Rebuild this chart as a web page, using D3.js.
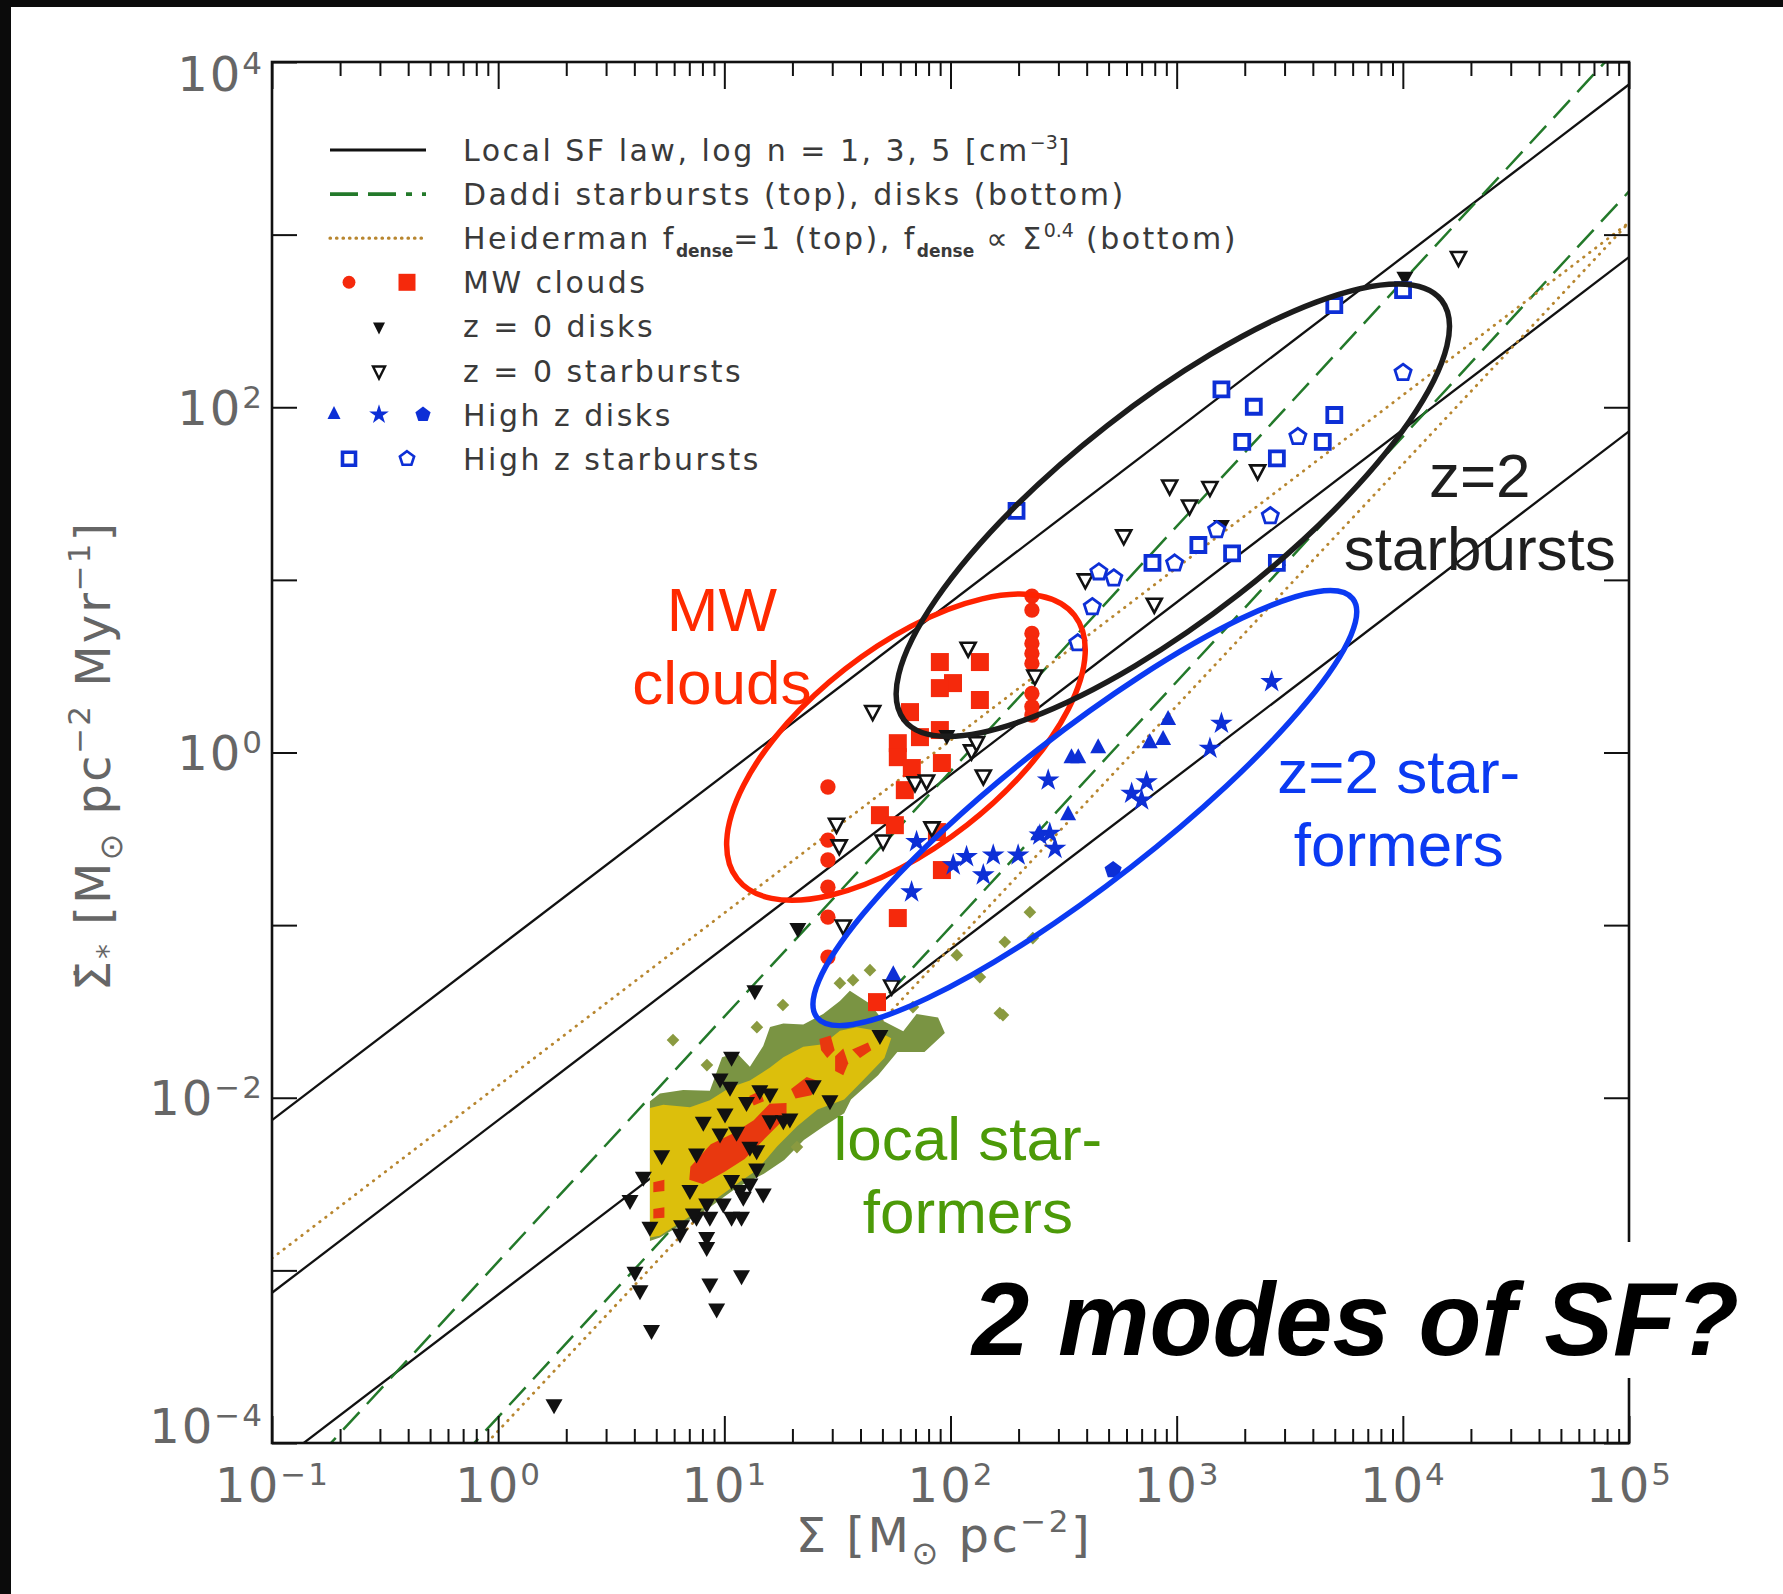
<!DOCTYPE html>
<html>
<head>
<meta charset="utf-8">
<script src="https://cdn.jsdelivr.net/npm/d3@7"></script>
<style>
  body { margin: 0; background: #fff; }
  svg { display: block; }
</style>
</head>
<body>
<svg id="chart" width="1783" height="1594"></svg>
<script>
// all points are [log10 Sigma, log10 SigmaDot]

// model lines: [slope, intercept] in log-log space
const localLaw = [[1, -1.13], [1, -2.13], [1, -3.14]];
const daddi = [[1.42, -2.95], [1.42, -3.85]];
const heiderman = [[1.0, -1.93], [1.4, -3.93]];

// local star-former contours
const olivePoly = [
  [0.671,-2.020],[0.715,-1.975],[0.818,-1.955],[0.936,-1.960],[0.990,-1.765],[1.054,-1.740],
  [1.113,-1.820],[1.172,-1.700],[1.202,-1.590],[1.261,-1.570],[1.349,-1.575],[1.437,-1.515],
  [1.511,-1.440],[1.555,-1.380],[1.644,-1.455],[1.703,-1.555],[1.791,-1.615],[1.850,-1.515],
  [1.945,-1.535],[1.975,-1.625],[1.885,-1.735],[1.765,-1.735],[1.680,-1.870],[1.560,-2.010],
  [1.530,-2.090],[1.440,-2.165],[1.352,-2.245],[1.265,-2.360],[1.175,-2.440],[1.056,-2.520],
  [0.936,-2.635],[0.818,-2.730],[0.715,-2.810],[0.671,-2.830]
];
const yellowPoly = [
  [0.671,-2.060],[0.730,-2.040],[0.848,-2.055],[0.936,-2.015],[1.025,-1.940],[1.113,-1.900],
  [1.202,-1.825],[1.261,-1.765],[1.349,-1.705],[1.437,-1.690],[1.511,-1.612],[1.585,-1.592],
  [1.673,-1.612],[1.738,-1.655],[1.708,-1.770],[1.620,-1.890],[1.530,-2.010],[1.412,-2.068],
  [1.322,-2.165],[1.233,-2.282],[1.145,-2.418],[1.056,-2.498],[0.936,-2.613],[0.818,-2.712],
  [0.715,-2.800],[0.671,-2.810]
];
const redPatches = [
  [[0.850,-2.400],[0.940,-2.270],[1.040,-2.205],[1.130,-2.130],[1.200,-2.035],[1.275,-2.030],
   [1.275,-2.110],[1.180,-2.235],[1.090,-2.355],[1.000,-2.430],[0.905,-2.500],[0.845,-2.475]],
  [[1.295,-1.950],[1.364,-1.880],[1.418,-1.905],[1.385,-1.985],[1.315,-2.005]],
  [[1.490,-1.760],[1.526,-1.715],[1.548,-1.800],[1.526,-1.870],[1.490,-1.845]],
  [[1.565,-1.720],[1.635,-1.680],[1.650,-1.725],[1.600,-1.770]],
  [[1.420,-1.660],[1.470,-1.640],[1.488,-1.725],[1.455,-1.770],[1.428,-1.725]],
  [[0.686,-2.490],[0.735,-2.475],[0.735,-2.540],[0.686,-2.548]],
  [[0.686,-2.645],[0.735,-2.635],[0.735,-2.695],[0.686,-2.700]],
  [[1.110,-1.990],[1.160,-1.960],[1.175,-2.020],[1.130,-2.045]]
];
const oliveSpots = [
  [2.351,-0.925],[2.240,-1.098],[2.130,-1.301],[2.028,-1.174],[2.232,-1.521],[1.569,-1.319],
  [2.364,-1.075],[1.144,-1.591],[1.259,-1.463],[0.773,-1.666],[0.923,-1.811],[1.321,-2.286],
  [2.218,-1.510],[1.511,-1.336],[1.644,-1.261],[1.834,-1.475]
];

// MW clouds
const mwCircles = [
  [1.458,-0.200],[1.458,-0.508],[1.458,-0.623],[1.458,-0.780],[1.458,-0.954],[1.458,-1.185],
  [2.360,0.906],[2.360,0.825],[2.360,0.690],[2.360,0.632],[2.360,0.574],[2.360,0.516],
  [2.360,0.342],[2.360,0.265],[2.360,0.217]
];
const mwSquares = [
  [1.953,0.524],[2.130,0.524],[2.011,0.402],[1.953,0.373],[2.130,0.304],[1.821,0.234],
  [1.953,0.130],[1.865,0.089],[1.767,0.054],[1.767,-0.027],[1.962,-0.061],[1.829,-0.090],
  [1.798,-0.218],[1.688,-0.363],[1.754,-0.421],[1.940,-0.461],[1.962,-0.681],[1.767,-0.959],
  [1.675,-1.446]
];

// z = 0 disks (filled) and starbursts (open)
const z0Disks = [
  [1.135,-1.377],[1.032,-1.763],[0.981,-1.888],[1.025,-1.937],[1.157,-1.956],[1.202,-1.975],
  [1.098,-2.024],[1.003,-2.091],[0.907,-2.139],[0.981,-2.207],[1.054,-2.197],[1.113,-2.284],
  [1.143,-2.304],[1.202,-2.130],[1.261,-2.130],[1.290,-2.120],[1.393,-1.927],[1.467,-2.014],
  [1.688,-1.637],[0.723,-2.333],[0.877,-2.323],[0.642,-2.458],[0.583,-2.593],[0.671,-2.748],
  [0.804,-2.786],[0.848,-2.535],[0.922,-2.613],[0.995,-2.613],[1.032,-2.477],[1.069,-2.535],
  [1.113,-2.497],[1.172,-2.555],[1.084,-2.574],[1.032,-2.690],[1.076,-2.690],[0.936,-2.690],
  [0.922,-2.806],[0.922,-2.864],[0.605,-3.008],[0.627,-3.115],[0.936,-3.076],[1.076,-3.028],
  [0.966,-3.221],[0.678,-3.346],[0.877,-2.690],[0.811,-2.738],[0.863,-2.671],[1.143,-2.410],
  [0.247,-3.775],[1.325,-1.017],[1.984,0.101],[4.009,2.756],[3.198,1.318]
];
const z0Starbursts = [
  [2.078,0.609],[1.656,0.242],[2.093,0.014],[2.115,0.062],[2.145,-0.131],[1.843,-0.170],
  [1.894,-0.160],[1.496,-0.411],[1.508,-0.536],[1.702,-0.508],[1.526,-1.000],[2.373,0.448],
  [2.596,1.005],[1.740,-1.348],[2.969,1.549],[3.147,1.540],[3.057,1.433],[2.766,1.260],
  [2.901,0.864],[3.358,1.636],[4.246,2.872],[1.918,-0.432]
];

// high z disks
const hzTriangles = [
  [2.962,0.188],[2.881,0.053],[2.940,0.072],[2.653,0.024],[2.535,-0.034],[2.565,-0.034],
  [2.520,-0.363],[2.388,-0.479],[1.747,-1.290]
];
const hzStars = [
  [3.420,0.410],[3.198,0.169],[3.147,0.024],[2.432,-0.160],[2.867,-0.170],[2.801,-0.237],
  [2.845,-0.276],[2.439,-0.469],[2.462,-0.556],[2.299,-0.595],[1.850,-0.517],[2.012,-0.652],
  [2.071,-0.604],[2.189,-0.595],[2.145,-0.710],[2.395,-0.479],[1.828,-0.808]
];
const hzPentagons = [[2.719,-0.681]];

// high z starbursts
const sbSquares = [
  [2.292,1.400],[3.198,2.104],[3.341,2.003],[3.290,1.800],[3.443,1.704],[3.697,1.955],
  [3.646,1.800],[3.096,1.202],[3.245,1.154],[2.893,1.099],[3.443,1.099],[3.697,2.592],
  [4.001,2.679]
];
const sbPentagons = [
  [4.001,2.200],[3.536,1.829],[3.414,1.370],[3.177,1.289],[2.991,1.096],[2.722,1.010],
  [2.656,1.045],[2.627,0.843],[2.563,0.634]
];

// highlighted groups: centre [log x, log y], semi-axes in px, tilt in degrees
const groupEllipses = [
  { c: [1.803, 0.031], rx: 214, ry: 99, tilt: -38, color: "#ff2200" },
  { c: [2.983, 1.404], rx: 341, ry: 107, tilt: -38, color: "#1c1c1c" },
  { c: [2.594, -0.322], rx: 340, ry: 75, tilt: -38, color: "#0b3af2" }
];

const annotations = [
  { at: [0.989, 0.703], lines: ["MW", "clouds"], color: "#ff2a00" },
  { at: [4.340, 1.480], lines: ["z=2", "starbursts"], color: "#1e1e1e" },
  { at: [3.982, -0.235], lines: ["z=2 star-", "formers"], color: "#0b3af2" },
  { at: [2.077, -2.361], lines: ["local star-", "formers"], color: "#4c9a08" }
];

const xMajorExp = [-1, 0, 1, 2, 3, 4, 5];
const yDecadeExp = [-4, -3, -2, -1, 0, 1, 2, 3, 4];
const yLabelExp = [-4, -2, 0, 2, 4];

const RED = "#f5290c", BLUE = "#0d2fd6", INK = "#111", GREEN = "#23792a", BROWN = "#b8862f";

const W = 1783, H = 1594;
const svg = d3.select("#chart");

const x = d3.scaleLog().domain([1e-1, 1e5]).range([272, 1629]);
const y = d3.scaleLog().domain([1e-4, 1e4]).range([1443, 62]);
const px = d => x(Math.pow(10, d[0]));
const py = d => y(Math.pow(10, d[1]));

svg.append("rect").attr("width", W).attr("height", H).attr("fill", "#fff");
svg.append("rect").attr("width", W).attr("height", 7).attr("fill", "#0b0b0b");
svg.append("rect").attr("width", 11).attr("height", H).attr("fill", "#0b0b0b");

svg.append("clipPath").attr("id", "plot")
  .append("rect")
  .attr("x", x(1e-1)).attr("y", y(1e4))
  .attr("width", x(1e5) - x(1e-1)).attr("height", y(1e-4) - y(1e4));

const plot = svg.append("g").attr("clip-path", "url(#plot)");

// model lines
const lineGen = d3.line().x(px).y(py);
const ends = ([m, b]) => [[-1, -m + b], [5, 5 * m + b]];

plot.selectAll(".local").data(localLaw).enter().append("path")
  .attr("d", d => lineGen(ends(d)))
  .attr("fill", "none").attr("stroke", INK).attr("stroke-width", 2.3);

plot.selectAll(".daddi").data(daddi).enter().append("path")
  .attr("d", d => lineGen(ends(d)))
  .attr("fill", "none").attr("stroke", GREEN).attr("stroke-width", 2.5)
  .attr("stroke-dasharray", "24,11");

plot.selectAll(".heid").data(heiderman).enter().append("path")
  .attr("d", d => lineGen(ends(d)))
  .attr("fill", "none").attr("stroke", BROWN).attr("stroke-width", 2.8)
  .attr("stroke-linecap", "round").attr("stroke-dasharray", "0.5,7");

// contours of local star-formers
const polyGen = d3.line().x(px).y(py).curve(d3.curveLinearClosed);
plot.append("path").attr("d", polyGen(olivePoly)).attr("fill", "#7a9443");
plot.append("path").attr("d", polyGen(yellowPoly)).attr("fill", "#dcbf0c");
plot.selectAll(".redp").data(redPatches).enter().append("path")
  .attr("d", d => polyGen(d)).attr("fill", "#e8380f");
plot.selectAll(".spot").data(oliveSpots).enter().append("path")
  .attr("transform", d => `translate(${px(d)},${py(d)}) rotate(45)`)
  .attr("d", d3.symbol(d3.symbolSquare, 80)())
  .attr("fill", "#8a9a40");

// marker shapes
const triDown = (w, h) => `M${-w / 2},${-h / 3}L${w / 2},${-h / 3}L0,${2 * h / 3}Z`;
const triUp = (w, h) => `M${-w / 2},${h / 3}L${w / 2},${h / 3}L0,${-2 * h / 3}Z`;
const pentagon = r => "M" + d3.range(5).map(k => {
  const a = (-90 + 72 * k) * Math.PI / 180;
  return [r * Math.cos(a), r * Math.sin(a)];
}).join("L") + "Z";
const sq = s => `M${-s / 2},${-s / 2}h${s}v${s}h${-s}Z`;

function drawMarks(data, shape, fill, stroke, sw) {
  plot.append("g").selectAll("path").data(data).enter().append("path")
    .attr("transform", d => `translate(${px(d)},${py(d)})`)
    .attr("d", shape)
    .attr("fill", fill)
    .attr("stroke", stroke || "none")
    .attr("stroke-width", sw || 0)
    .attr("stroke-linejoin", "miter");
}

drawMarks(mwCircles, d3.symbol(d3.symbolCircle, 185)(), RED);
drawMarks(mwSquares, sq(18), RED);
drawMarks(z0Disks, triDown(17, 15), INK);
drawMarks(z0Starbursts, triDown(15, 14), "#fff", INK, 2.6);
drawMarks(hzTriangles, triUp(16, 15), BLUE);
drawMarks(hzStars, d3.symbol(d3.symbolStar, 160)(), BLUE);
drawMarks(hzPentagons, pentagon(9), BLUE);
drawMarks(sbSquares, sq(14), "#fff", BLUE, 3.8);
drawMarks(sbPentagons, pentagon(8.5), "#fff", BLUE, 2.8);

// frame and axes
svg.append("rect")
  .attr("x", x(1e-1)).attr("y", y(1e4))
  .attr("width", x(1e5) - x(1e-1)).attr("height", y(1e-4) - y(1e4))
  .attr("fill", "none").attr("stroke", INK).attr("stroke-width", 2.6);

const xMajor = xMajorExp.map(e => Number("1e" + e));
const xMinor = d3.range(-1, 5).flatMap(e => d3.range(2, 10).map(m => Number(m + "e" + e)));
const yDecades = yDecadeExp.map(e => Number("1e" + e));
const expOf = v => Math.round(Math.log10(v));

function styleAxis(g) {
  g.select(".domain").remove();
  g.selectAll(".tick line").attr("stroke", INK).attr("stroke-width", 2);
}

const FONT_AX = "DejaVu Sans, Liberation Sans, sans-serif";
const GREY = "#666";

function powerLabel(text, e) {
  text.text(null);
  text.append("tspan").text("10");
  text.append("tspan").attr("dy", -17).attr("font-size", 31)
    .text(e < 0 ? "\u2212" + (-e) : String(e));
}

svg.append("g").attr("transform", `translate(0,${y(1e-4)})`)
  .call(d3.axisBottom(x).tickValues(xMajor).tickSizeInner(-27).tickSizeOuter(0).tickFormat(d => d))
  .call(styleAxis)
  .call(g => g.selectAll(".tick text")
    .attr("y", 59).attr("dy", null)
    .attr("font-size", 48).attr("font-family", FONT_AX)
    .attr("fill", GREY).attr("letter-spacing", 2)
    .each(function (d) { powerLabel(d3.select(this), expOf(d)); }));

svg.append("g").attr("transform", `translate(0,${y(1e-4)})`)
  .call(d3.axisBottom(x).tickValues(xMinor).tickSizeInner(-14).tickSizeOuter(0).tickFormat(""))
  .call(styleAxis);

svg.append("g").attr("transform", `translate(0,${y(1e4)})`)
  .call(d3.axisTop(x).tickValues(xMajor).tickSizeInner(-27).tickSizeOuter(0).tickFormat(""))
  .call(styleAxis);

svg.append("g").attr("transform", `translate(0,${y(1e4)})`)
  .call(d3.axisTop(x).tickValues(xMinor).tickSizeInner(-14).tickSizeOuter(0).tickFormat(""))
  .call(styleAxis);

svg.append("g").attr("transform", `translate(${x(1e-1)},0)`)
  .call(d3.axisLeft(y).tickValues(yDecades).tickSizeInner(-25).tickSizeOuter(0).tickPadding(8)
    .tickFormat(d => yLabelExp.includes(expOf(d)) ? d : ""))
  .call(styleAxis)
  .call(g => g.selectAll(".tick text")
    .filter(d => yLabelExp.includes(expOf(d)))
    .attr("dy", null)
    .attr("y", d => expOf(d) === 4 ? 28 : expOf(d) === -4 ? -1 : 17)
    .attr("font-size", 48).attr("font-family", FONT_AX)
    .attr("fill", GREY).attr("letter-spacing", 2)
    .each(function (d) { powerLabel(d3.select(this), expOf(d)); }));

svg.append("g").attr("transform", `translate(${x(1e5)},0)`)
  .call(d3.axisRight(y).tickValues(yDecades).tickSizeInner(-25).tickSizeOuter(0).tickFormat(""))
  .call(styleAxis);

// axis titles
const xTitle = svg.append("text")
  .attr("x", 944).attr("y", 1552).attr("text-anchor", "middle")
  .attr("font-family", FONT_AX).attr("font-size", 48).attr("fill", GREY)
  .attr("letter-spacing", 2.5);
xTitle.append("tspan").text("\u03a3 [M");
xTitle.append("tspan").attr("font-size", 32).attr("dy", 12).text("\u2299");
xTitle.append("tspan").attr("dy", -12).text(" pc");
xTitle.append("tspan").attr("font-size", 31).attr("dy", -20).text("\u22122");
xTitle.append("tspan").attr("dy", 20).text("]");

const yTitle = svg.append("text")
  .attr("transform", "translate(110,756) rotate(-90)").attr("text-anchor", "middle")
  .attr("font-family", FONT_AX).attr("font-size", 48).attr("fill", GREY)
  .attr("letter-spacing", 2);
yTitle.append("tspan").text("\u03a3\u0307");
yTitle.append("tspan").attr("font-size", 30).attr("dy", 8).text("*");
yTitle.append("tspan").attr("dy", -8).text(" [M");
yTitle.append("tspan").attr("font-size", 32).attr("dy", 12).text("\u2299");
yTitle.append("tspan").attr("dy", -12).text(" pc");
yTitle.append("tspan").attr("font-size", 31).attr("dy", -20).text("\u22122");
yTitle.append("tspan").attr("dy", 20).text(" Myr");
yTitle.append("tspan").attr("font-size", 31).attr("dy", -20).text("\u22121");
yTitle.append("tspan").attr("dy", 20).text("]");

// highlight ellipses
svg.append("g").selectAll("ellipse").data(groupEllipses).enter().append("ellipse")
  .attr("cx", d => px(d.c)).attr("cy", d => py(d.c))
  .attr("rx", d => d.rx).attr("ry", d => d.ry)
  .attr("transform", d => `rotate(${d.tilt},${px(d.c)},${py(d.c)})`)
  .attr("fill", "none").attr("stroke", d => d.color).attr("stroke-width", 5.5);

// legend
const legendRows = [
  { parts: [["Local SF law, log n = 1, 3, 5 [cm"], ["\u22123", "sup"], ["]"]] },
  { parts: [["Daddi starbursts (top), disks (bottom)"]] },
  { parts: [["Heiderman f"], ["dense", "sub"], ["=1 (top), f"], ["dense", "sub"], [" \u221d \u03a3"], ["0.4", "sup"], [" (bottom)"]] },
  { parts: [["MW clouds"]] },
  { parts: [["z = 0 disks"]] },
  { parts: [["z = 0 starbursts"]] },
  { parts: [["High z disks"]] },
  { parts: [["High z starbursts"]] }
];
const legY = i => 150 + i * 44.1;
const leg = svg.append("g");

legendRows.forEach((row, i) => {
  const t = leg.append("text").attr("x", 463).attr("y", legY(i) + 11)
    .attr("font-family", FONT_AX).attr("font-size", 30).attr("fill", "#3a3a3a")
    .attr("letter-spacing", 2.5);
  let shift = 0;
  row.parts.forEach(([s, kind]) => {
    const target = kind === "sub" ? 8 : kind === "sup" ? -12 : 0;
    const sp = t.append("tspan").attr("dy", target - shift).text(s);
    if (kind) sp.attr("font-size", kind === "sub" ? 17 : 19).attr("font-weight", kind === "sub" ? "bold" : null)
      .attr("letter-spacing", 0);
    shift = target;
  });
});

const legLine = (i, stroke, sw, dash, cap) => leg.append("line")
  .attr("x1", 330).attr("x2", 426).attr("y1", legY(i)).attr("y2", legY(i))
  .attr("stroke", stroke).attr("stroke-width", sw)
  .attr("stroke-dasharray", dash).attr("stroke-linecap", cap || "butt");
legLine(0, INK, 3.2, null);
legLine(1, GREEN, 3.8, "28,10,28,10,6,10");
legLine(2, BROWN, 3.2, "0.5,6", "round");

const legMark = (i, cx, shape, fill, stroke, sw) => leg.append("path")
  .attr("transform", `translate(${cx},${legY(i)})`).attr("d", shape)
  .attr("fill", fill).attr("stroke", stroke || "none").attr("stroke-width", sw || 0);
legMark(3, 349, d3.symbol(d3.symbolCircle, 130)(), RED);
legMark(3, 407, sq(17), RED);
legMark(4, 379, triDown(12, 12), INK);
legMark(5, 379, triDown(12, 12), "#fff", INK, 2.4);
legMark(6, 334, triUp(13, 13), BLUE);
legMark(6, 379, d3.symbol(d3.symbolStar, 120)(), BLUE);
legMark(6, 423, pentagon(8), BLUE);
legMark(7, 349, sq(13), "#fff", BLUE, 3.6);
legMark(7, 407, pentagon(7.5), "#fff", BLUE, 2.6);

// group labels
annotations.forEach(a => {
  const t = svg.append("text").attr("x", px(a.at)).attr("y", py(a.at))
    .attr("text-anchor", "middle").attr("font-family", "Liberation Sans, Arial, sans-serif")
    .attr("font-size", 62).attr("fill", a.color);
  a.lines.forEach((s, k) => t.append("tspan").attr("x", px(a.at)).attr("dy", k ? 73 : 0).text(s));
});

// closing question, on a white card over the frame
svg.append("rect").attr("x", 962).attr("y", 1242).attr("width", 800).attr("height", 136).attr("fill", "#fff");
svg.append("text").attr("x", 972).attr("y", 1355)
  .attr("font-family", "Liberation Sans, Arial, sans-serif").attr("font-size", 103)
  .attr("font-weight", "bold").attr("font-style", "italic").attr("fill", "#000")
  .text("2 modes of SF?");
</script>
</body>
</html>
